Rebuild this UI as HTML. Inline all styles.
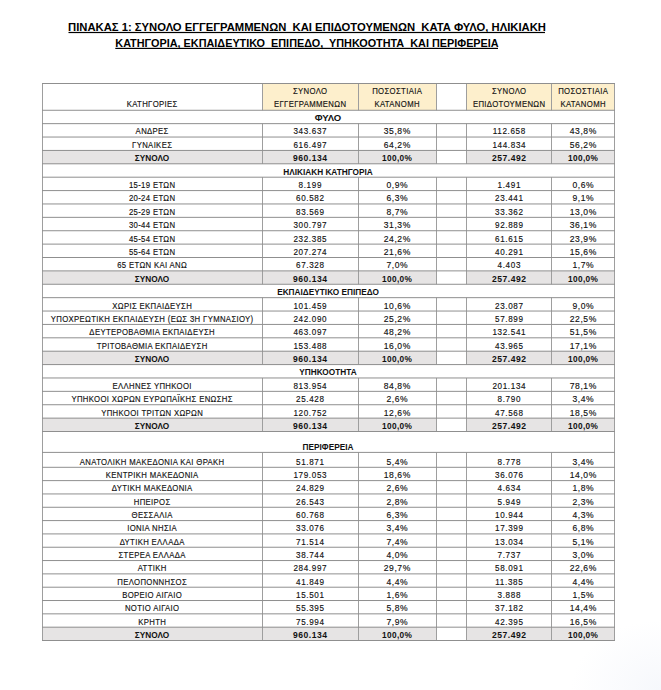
<!DOCTYPE html>
<html><head><meta charset="utf-8"><style>
html,body{margin:0;padding:0;background:#fff;}
body{width:661px;height:690px;position:relative;overflow:hidden;font-family:"Liberation Sans",sans-serif;}
svg{position:absolute;left:0;top:0;}
.t{position:absolute;text-align:center;white-space:nowrap;line-height:1;color:#111;transform-origin:50% 50%;-webkit-text-stroke:0.15px #111;}
.tt{font-weight:bold;color:#000;-webkit-text-stroke:0.0px #000;}
.b{font-weight:bold;-webkit-text-stroke:0.0px #111;}
.f{position:absolute;}
</style></head><body>
<div class="f corner" style="left:541px;top:590px;width:120px;height:100px;background:radial-gradient(ellipse 90px 70px at 100% 100%, rgba(240,243,250,0.6) 0%, rgba(255,255,255,0) 100%)"></div>
<div class="f" style="left:262px;top:83.50px;width:174px;height:26.77px;background:#fdefcc"></div>
<div class="f" style="left:466px;top:83.50px;width:148px;height:26.77px;background:#fdefcc"></div>
<div class="f" style="left:42px;top:150.43px;width:394px;height:13.38px;background:#e6e4e4"></div>
<div class="f" style="left:466px;top:150.43px;width:148px;height:13.38px;background:#e6e4e4"></div>
<div class="f" style="left:42px;top:270.89px;width:394px;height:13.38px;background:#e6e4e4"></div>
<div class="f" style="left:466px;top:270.89px;width:148px;height:13.38px;background:#e6e4e4"></div>
<div class="f" style="left:42px;top:351.20px;width:394px;height:13.38px;background:#e6e4e4"></div>
<div class="f" style="left:466px;top:351.20px;width:148px;height:13.38px;background:#e6e4e4"></div>
<div class="f" style="left:42px;top:418.12px;width:394px;height:13.38px;background:#e6e4e4"></div>
<div class="f" style="left:466px;top:418.12px;width:148px;height:13.38px;background:#e6e4e4"></div>
<div class="f" style="left:42px;top:627.18px;width:394px;height:13.32px;background:#e6e4e4"></div>
<div class="f" style="left:466px;top:627.18px;width:148px;height:13.32px;background:#e6e4e4"></div>
<svg width="661" height="690" viewBox="0 0 661 690" stroke="#8f8f8f" stroke-width="1.0">
<line x1="42.5" y1="83.5" x2="42.5" y2="640.5" stroke="#9e9e9e" />
<line x1="262.5" y1="83.5" x2="262.5" y2="110.27" stroke="#9e9e9e" />
<line x1="262.5" y1="123.655" x2="262.5" y2="163.81" stroke="#9e9e9e" />
<line x1="262.5" y1="177.195" x2="262.5" y2="284.275" stroke="#9e9e9e" />
<line x1="262.5" y1="297.65999999999997" x2="262.5" y2="364.585" stroke="#9e9e9e" />
<line x1="262.5" y1="377.96999999999997" x2="262.5" y2="431.5" stroke="#9e9e9e" />
<line x1="262.5" y1="452.4" x2="262.5" y2="640.5" stroke="#9e9e9e" />
<line x1="358.5" y1="83.5" x2="358.5" y2="110.27" stroke="#9e9e9e" />
<line x1="358.5" y1="123.655" x2="358.5" y2="163.81" stroke="#9e9e9e" />
<line x1="358.5" y1="177.195" x2="358.5" y2="284.275" stroke="#9e9e9e" />
<line x1="358.5" y1="297.65999999999997" x2="358.5" y2="364.585" stroke="#9e9e9e" />
<line x1="358.5" y1="377.96999999999997" x2="358.5" y2="431.5" stroke="#9e9e9e" />
<line x1="358.5" y1="452.4" x2="358.5" y2="640.5" stroke="#9e9e9e" />
<line x1="436.5" y1="83.5" x2="436.5" y2="110.27" stroke="#9e9e9e" />
<line x1="436.5" y1="123.655" x2="436.5" y2="163.81" stroke="#9e9e9e" />
<line x1="436.5" y1="177.195" x2="436.5" y2="284.275" stroke="#9e9e9e" />
<line x1="436.5" y1="297.65999999999997" x2="436.5" y2="364.585" stroke="#9e9e9e" />
<line x1="436.5" y1="377.96999999999997" x2="436.5" y2="431.5" stroke="#9e9e9e" />
<line x1="436.5" y1="452.4" x2="436.5" y2="640.5" stroke="#9e9e9e" />
<line x1="466.5" y1="83.5" x2="466.5" y2="110.27" stroke="#9e9e9e" />
<line x1="466.5" y1="123.655" x2="466.5" y2="163.81" stroke="#9e9e9e" />
<line x1="466.5" y1="177.195" x2="466.5" y2="284.275" stroke="#9e9e9e" />
<line x1="466.5" y1="297.65999999999997" x2="466.5" y2="364.585" stroke="#9e9e9e" />
<line x1="466.5" y1="377.96999999999997" x2="466.5" y2="431.5" stroke="#9e9e9e" />
<line x1="466.5" y1="452.4" x2="466.5" y2="640.5" stroke="#9e9e9e" />
<line x1="551.5" y1="83.5" x2="551.5" y2="110.27" stroke="#9e9e9e" />
<line x1="551.5" y1="123.655" x2="551.5" y2="163.81" stroke="#9e9e9e" />
<line x1="551.5" y1="177.195" x2="551.5" y2="284.275" stroke="#9e9e9e" />
<line x1="551.5" y1="297.65999999999997" x2="551.5" y2="364.585" stroke="#9e9e9e" />
<line x1="551.5" y1="377.96999999999997" x2="551.5" y2="431.5" stroke="#9e9e9e" />
<line x1="551.5" y1="452.4" x2="551.5" y2="640.5" stroke="#9e9e9e" />
<line x1="614.5" y1="83.5" x2="614.5" y2="640.5" stroke="#9e9e9e" />
<line x1="42" y1="83.5" x2="615" y2="83.5" />
<line x1="42" y1="110.27" x2="615" y2="110.27" />
<line x1="42" y1="123.655" x2="615" y2="123.655" />
<line x1="42" y1="137.04" x2="615" y2="137.04" />
<line x1="42" y1="150.425" x2="615" y2="150.425" />
<line x1="42" y1="163.81" x2="615" y2="163.81" />
<line x1="42" y1="177.195" x2="615" y2="177.195" />
<line x1="42" y1="190.57999999999998" x2="615" y2="190.57999999999998" />
<line x1="42" y1="203.965" x2="615" y2="203.965" />
<line x1="42" y1="217.35" x2="615" y2="217.35" />
<line x1="42" y1="230.73499999999999" x2="615" y2="230.73499999999999" />
<line x1="42" y1="244.12" x2="615" y2="244.12" />
<line x1="42" y1="257.505" x2="615" y2="257.505" />
<line x1="42" y1="270.89" x2="615" y2="270.89" />
<line x1="42" y1="284.275" x2="615" y2="284.275" />
<line x1="42" y1="297.65999999999997" x2="615" y2="297.65999999999997" />
<line x1="42" y1="311.04499999999996" x2="615" y2="311.04499999999996" />
<line x1="42" y1="324.43" x2="615" y2="324.43" />
<line x1="42" y1="337.815" x2="615" y2="337.815" />
<line x1="42" y1="351.2" x2="615" y2="351.2" />
<line x1="42" y1="364.585" x2="615" y2="364.585" />
<line x1="42" y1="377.96999999999997" x2="615" y2="377.96999999999997" />
<line x1="42" y1="391.355" x2="615" y2="391.355" />
<line x1="42" y1="404.74" x2="615" y2="404.74" />
<line x1="42" y1="418.125" x2="615" y2="418.125" />
<line x1="42" y1="431.5" x2="615" y2="431.5" />
<line x1="42" y1="452.4" x2="615" y2="452.4" />
<line x1="42" y1="467.3" x2="615" y2="467.3" />
<line x1="42" y1="480.62307692307695" x2="615" y2="480.62307692307695" />
<line x1="42" y1="493.94615384615383" x2="615" y2="493.94615384615383" />
<line x1="42" y1="507.2692307692308" x2="615" y2="507.2692307692308" />
<line x1="42" y1="520.5923076923077" x2="615" y2="520.5923076923077" />
<line x1="42" y1="533.9153846153846" x2="615" y2="533.9153846153846" />
<line x1="42" y1="547.2384615384615" x2="615" y2="547.2384615384615" />
<line x1="42" y1="560.5615384615385" x2="615" y2="560.5615384615385" />
<line x1="42" y1="573.8846153846154" x2="615" y2="573.8846153846154" />
<line x1="42" y1="587.2076923076924" x2="615" y2="587.2076923076924" />
<line x1="42" y1="600.5307692307692" x2="615" y2="600.5307692307692" />
<line x1="42" y1="613.8538461538461" x2="615" y2="613.8538461538461" />
<line x1="42" y1="627.176923076923" x2="615" y2="627.176923076923" />
<line x1="42" y1="640.5" x2="615" y2="640.5" />
<rect x="68.5" y="31.9" width="476.5" height="1.2" fill="#000" stroke="none"/>
<rect x="115.3" y="47.8" width="382.7" height="1.2" fill="#000" stroke="none"/>
</svg>
<div class="t tt" style="left:-43.20px;top:21.95px;width:700px;font-size:11px;transform:scaleX(1.0225)">ΠΙΝΑΚΑΣ 1: ΣΥΝΟΛΟ ΕΓΓΕΓΡΑΜΜΕΝΩΝ&nbsp; ΚΑΙ ΕΠΙΔΟΤΟΥΜΕΝΩΝ&nbsp; ΚΑΤΑ ΦΥΛΟ, ΗΛΙΚΙΑΚΗ</div>
<div class="t tt" style="left:-43.20px;top:38.05px;width:700px;font-size:11px;transform:scaleX(0.9860)">ΚΑΤΗΓΟΡΙΑ, ΕΚΠΑΙΔΕΥΤΙΚΟ&nbsp; ΕΠΙΠΕΔΟ,&nbsp; ΥΠΗΚΟΟΤΗΤΑ&nbsp; ΚΑΙ ΠΕΡΙΦΕΡΕΙΑ</div>
<div class="t" style="left:-48.00px;top:99.76px;width:400px;font-size:9.0px;transform:scaleX(0.8600);letter-spacing:0.4px;text-indent:0.4px;">ΚΑΤΗΓΟΡΙΕΣ</div>
<div class="t" style="left:110.00px;top:87.16px;width:400px;font-size:9.0px;transform:scaleX(0.8600);letter-spacing:0.4px;text-indent:0.4px;">ΣΥΝΟΛΟ</div>
<div class="t" style="left:110.00px;top:99.76px;width:400px;font-size:9.0px;transform:scaleX(0.8600);letter-spacing:0.4px;text-indent:0.4px;">ΕΓΓΕΓΡΑΜΜΕΝΩΝ</div>
<div class="t" style="left:197.00px;top:87.16px;width:400px;font-size:9.0px;transform:scaleX(0.8600);letter-spacing:0.4px;text-indent:0.4px;">ΠΟΣΟΣΤΙΑΙΑ</div>
<div class="t" style="left:197.00px;top:99.76px;width:400px;font-size:9.0px;transform:scaleX(0.8600);letter-spacing:0.4px;text-indent:0.4px;">ΚΑΤΑΝΟΜΗ</div>
<div class="t" style="left:308.50px;top:87.16px;width:400px;font-size:9.0px;transform:scaleX(0.8600);letter-spacing:0.4px;text-indent:0.4px;">ΣΥΝΟΛΟ</div>
<div class="t" style="left:308.50px;top:99.76px;width:400px;font-size:9.0px;transform:scaleX(0.8600);letter-spacing:0.4px;text-indent:0.4px;">ΕΠΙΔΟΤΟΥΜΕΝΩΝ</div>
<div class="t" style="left:382.50px;top:87.16px;width:400px;font-size:9.0px;transform:scaleX(0.8600);letter-spacing:0.4px;text-indent:0.4px;">ΠΟΣΟΣΤΙΑΙΑ</div>
<div class="t" style="left:382.50px;top:99.76px;width:400px;font-size:9.0px;transform:scaleX(0.8600);letter-spacing:0.4px;text-indent:0.4px;">ΚΑΤΑΝΟΜΗ</div>
<div class="t b" style="left:128.00px;top:114.11px;width:400px;font-size:9.0px;transform:scaleX(1.0600);">ΦΥΛΟ</div>
<div class="t" style="left:-48.00px;top:127.49px;width:400px;font-size:9.0px;transform:scaleX(0.8600);letter-spacing:0.4px;text-indent:0.4px;">ΑΝΔΡΕΣ</div>
<div class="t" style="left:110.00px;top:127.49px;width:400px;font-size:9.0px;transform:scaleX(0.9000);letter-spacing:0.7px;text-indent:0.7px;">343.637</div>
<div class="t" style="left:197.00px;top:127.49px;width:400px;font-size:9.0px;transform:scaleX(0.9500);letter-spacing:0.6px;text-indent:0.6px;">35,8%</div>
<div class="t" style="left:308.50px;top:127.49px;width:400px;font-size:9.0px;transform:scaleX(0.9000);letter-spacing:0.7px;text-indent:0.7px;">112.658</div>
<div class="t" style="left:382.50px;top:127.49px;width:400px;font-size:9.0px;transform:scaleX(0.9500);letter-spacing:0.6px;text-indent:0.6px;">43,8%</div>
<div class="t" style="left:-48.00px;top:140.88px;width:400px;font-size:9.0px;transform:scaleX(0.8600);letter-spacing:0.4px;text-indent:0.4px;">ΓΥΝΑΙΚΕΣ</div>
<div class="t" style="left:110.00px;top:140.88px;width:400px;font-size:9.0px;transform:scaleX(0.9000);letter-spacing:0.7px;text-indent:0.7px;">616.497</div>
<div class="t" style="left:197.00px;top:140.88px;width:400px;font-size:9.0px;transform:scaleX(0.9500);letter-spacing:0.6px;text-indent:0.6px;">64,2%</div>
<div class="t" style="left:308.50px;top:140.88px;width:400px;font-size:9.0px;transform:scaleX(0.9000);letter-spacing:0.7px;text-indent:0.7px;">144.834</div>
<div class="t" style="left:382.50px;top:140.88px;width:400px;font-size:9.0px;transform:scaleX(0.9500);letter-spacing:0.6px;text-indent:0.6px;">56,2%</div>
<div class="t b" style="left:-48.00px;top:154.26px;width:400px;font-size:9.0px;transform:scaleX(0.9180);">ΣΥΝΟΛΟ</div>
<div class="t b" style="left:110.00px;top:154.26px;width:400px;font-size:9.0px;transform:scaleX(0.9500);letter-spacing:0.55px;text-indent:0.55px;">960.134</div>
<div class="t b" style="left:197.00px;top:154.26px;width:400px;font-size:9.0px;transform:scaleX(0.9200);letter-spacing:0.4px;text-indent:0.4px;">100,0%</div>
<div class="t b" style="left:308.50px;top:154.26px;width:400px;font-size:9.0px;transform:scaleX(0.9500);letter-spacing:0.55px;text-indent:0.55px;">257.492</div>
<div class="t b" style="left:382.50px;top:154.26px;width:400px;font-size:9.0px;transform:scaleX(0.9200);letter-spacing:0.4px;text-indent:0.4px;">100,0%</div>
<div class="t b" style="left:128.00px;top:167.65px;width:400px;font-size:9.0px;transform:scaleX(0.9180);">ΗΛΙΚΙΑΚΗ ΚΑΤΗΓΟΡΙΑ</div>
<div class="t" style="left:-48.00px;top:181.03px;width:400px;font-size:9.0px;transform:scaleX(0.8600);letter-spacing:0.4px;text-indent:0.4px;">15-19 ΕΤΩΝ</div>
<div class="t" style="left:110.00px;top:181.03px;width:400px;font-size:9.0px;transform:scaleX(0.9000);letter-spacing:0.7px;text-indent:0.7px;">8.199</div>
<div class="t" style="left:197.00px;top:181.03px;width:400px;font-size:9.0px;transform:scaleX(0.9500);letter-spacing:0.6px;text-indent:0.6px;">0,9%</div>
<div class="t" style="left:308.50px;top:181.03px;width:400px;font-size:9.0px;transform:scaleX(0.9000);letter-spacing:0.7px;text-indent:0.7px;">1.491</div>
<div class="t" style="left:382.50px;top:181.03px;width:400px;font-size:9.0px;transform:scaleX(0.9500);letter-spacing:0.6px;text-indent:0.6px;">0,6%</div>
<div class="t" style="left:-48.00px;top:194.42px;width:400px;font-size:9.0px;transform:scaleX(0.8600);letter-spacing:0.4px;text-indent:0.4px;">20-24 ΕΤΩΝ</div>
<div class="t" style="left:110.00px;top:194.42px;width:400px;font-size:9.0px;transform:scaleX(0.9000);letter-spacing:0.7px;text-indent:0.7px;">60.582</div>
<div class="t" style="left:197.00px;top:194.42px;width:400px;font-size:9.0px;transform:scaleX(0.9500);letter-spacing:0.6px;text-indent:0.6px;">6,3%</div>
<div class="t" style="left:308.50px;top:194.42px;width:400px;font-size:9.0px;transform:scaleX(0.9000);letter-spacing:0.7px;text-indent:0.7px;">23.441</div>
<div class="t" style="left:382.50px;top:194.42px;width:400px;font-size:9.0px;transform:scaleX(0.9500);letter-spacing:0.6px;text-indent:0.6px;">9,1%</div>
<div class="t" style="left:-48.00px;top:207.80px;width:400px;font-size:9.0px;transform:scaleX(0.8600);letter-spacing:0.4px;text-indent:0.4px;">25-29 ΕΤΩΝ</div>
<div class="t" style="left:110.00px;top:207.80px;width:400px;font-size:9.0px;transform:scaleX(0.9000);letter-spacing:0.7px;text-indent:0.7px;">83.569</div>
<div class="t" style="left:197.00px;top:207.80px;width:400px;font-size:9.0px;transform:scaleX(0.9500);letter-spacing:0.6px;text-indent:0.6px;">8,7%</div>
<div class="t" style="left:308.50px;top:207.80px;width:400px;font-size:9.0px;transform:scaleX(0.9000);letter-spacing:0.7px;text-indent:0.7px;">33.362</div>
<div class="t" style="left:382.50px;top:207.80px;width:400px;font-size:9.0px;transform:scaleX(0.9500);letter-spacing:0.6px;text-indent:0.6px;">13,0%</div>
<div class="t" style="left:-48.00px;top:221.19px;width:400px;font-size:9.0px;transform:scaleX(0.8600);letter-spacing:0.4px;text-indent:0.4px;">30-44 ΕΤΩΝ</div>
<div class="t" style="left:110.00px;top:221.19px;width:400px;font-size:9.0px;transform:scaleX(0.9000);letter-spacing:0.7px;text-indent:0.7px;">300.797</div>
<div class="t" style="left:197.00px;top:221.19px;width:400px;font-size:9.0px;transform:scaleX(0.9500);letter-spacing:0.6px;text-indent:0.6px;">31,3%</div>
<div class="t" style="left:308.50px;top:221.19px;width:400px;font-size:9.0px;transform:scaleX(0.9000);letter-spacing:0.7px;text-indent:0.7px;">92.889</div>
<div class="t" style="left:382.50px;top:221.19px;width:400px;font-size:9.0px;transform:scaleX(0.9500);letter-spacing:0.6px;text-indent:0.6px;">36,1%</div>
<div class="t" style="left:-48.00px;top:234.57px;width:400px;font-size:9.0px;transform:scaleX(0.8600);letter-spacing:0.4px;text-indent:0.4px;">45-54 ΕΤΩΝ</div>
<div class="t" style="left:110.00px;top:234.57px;width:400px;font-size:9.0px;transform:scaleX(0.9000);letter-spacing:0.7px;text-indent:0.7px;">232.385</div>
<div class="t" style="left:197.00px;top:234.57px;width:400px;font-size:9.0px;transform:scaleX(0.9500);letter-spacing:0.6px;text-indent:0.6px;">24,2%</div>
<div class="t" style="left:308.50px;top:234.57px;width:400px;font-size:9.0px;transform:scaleX(0.9000);letter-spacing:0.7px;text-indent:0.7px;">61.615</div>
<div class="t" style="left:382.50px;top:234.57px;width:400px;font-size:9.0px;transform:scaleX(0.9500);letter-spacing:0.6px;text-indent:0.6px;">23,9%</div>
<div class="t" style="left:-48.00px;top:247.96px;width:400px;font-size:9.0px;transform:scaleX(0.8600);letter-spacing:0.4px;text-indent:0.4px;">55-64 ΕΤΩΝ</div>
<div class="t" style="left:110.00px;top:247.96px;width:400px;font-size:9.0px;transform:scaleX(0.9000);letter-spacing:0.7px;text-indent:0.7px;">207.274</div>
<div class="t" style="left:197.00px;top:247.96px;width:400px;font-size:9.0px;transform:scaleX(0.9500);letter-spacing:0.6px;text-indent:0.6px;">21,6%</div>
<div class="t" style="left:308.50px;top:247.96px;width:400px;font-size:9.0px;transform:scaleX(0.9000);letter-spacing:0.7px;text-indent:0.7px;">40.291</div>
<div class="t" style="left:382.50px;top:247.96px;width:400px;font-size:9.0px;transform:scaleX(0.9500);letter-spacing:0.6px;text-indent:0.6px;">15,6%</div>
<div class="t" style="left:-48.00px;top:261.35px;width:400px;font-size:9.0px;transform:scaleX(0.8600);letter-spacing:0.4px;text-indent:0.4px;">65 ΕΤΩΝ ΚΑΙ ΑΝΩ</div>
<div class="t" style="left:110.00px;top:261.35px;width:400px;font-size:9.0px;transform:scaleX(0.9000);letter-spacing:0.7px;text-indent:0.7px;">67.328</div>
<div class="t" style="left:197.00px;top:261.35px;width:400px;font-size:9.0px;transform:scaleX(0.9500);letter-spacing:0.6px;text-indent:0.6px;">7,0%</div>
<div class="t" style="left:308.50px;top:261.35px;width:400px;font-size:9.0px;transform:scaleX(0.9000);letter-spacing:0.7px;text-indent:0.7px;">4.403</div>
<div class="t" style="left:382.50px;top:261.35px;width:400px;font-size:9.0px;transform:scaleX(0.9500);letter-spacing:0.6px;text-indent:0.6px;">1,7%</div>
<div class="t b" style="left:-48.00px;top:274.73px;width:400px;font-size:9.0px;transform:scaleX(0.9180);">ΣΥΝΟΛΟ</div>
<div class="t b" style="left:110.00px;top:274.73px;width:400px;font-size:9.0px;transform:scaleX(0.9500);letter-spacing:0.55px;text-indent:0.55px;">960.134</div>
<div class="t b" style="left:197.00px;top:274.73px;width:400px;font-size:9.0px;transform:scaleX(0.9200);letter-spacing:0.4px;text-indent:0.4px;">100,0%</div>
<div class="t b" style="left:308.50px;top:274.73px;width:400px;font-size:9.0px;transform:scaleX(0.9500);letter-spacing:0.55px;text-indent:0.55px;">257.492</div>
<div class="t b" style="left:382.50px;top:274.73px;width:400px;font-size:9.0px;transform:scaleX(0.9200);letter-spacing:0.4px;text-indent:0.4px;">100,0%</div>
<div class="t b" style="left:128.00px;top:288.12px;width:400px;font-size:9.0px;transform:scaleX(0.9180);">ΕΚΠΑΙΔΕΥΤΙΚΟ ΕΠΙΠΕΔΟ</div>
<div class="t" style="left:-48.00px;top:301.50px;width:400px;font-size:9.0px;transform:scaleX(0.8600);letter-spacing:0.4px;text-indent:0.4px;">ΧΩΡΙΣ ΕΚΠΑΙΔΕΥΣΗ</div>
<div class="t" style="left:110.00px;top:301.50px;width:400px;font-size:9.0px;transform:scaleX(0.9000);letter-spacing:0.7px;text-indent:0.7px;">101.459</div>
<div class="t" style="left:197.00px;top:301.50px;width:400px;font-size:9.0px;transform:scaleX(0.9500);letter-spacing:0.6px;text-indent:0.6px;">10,6%</div>
<div class="t" style="left:308.50px;top:301.50px;width:400px;font-size:9.0px;transform:scaleX(0.9000);letter-spacing:0.7px;text-indent:0.7px;">23.087</div>
<div class="t" style="left:382.50px;top:301.50px;width:400px;font-size:9.0px;transform:scaleX(0.9500);letter-spacing:0.6px;text-indent:0.6px;">9,0%</div>
<div class="t" style="left:-48.00px;top:314.89px;width:400px;font-size:9.0px;transform:scaleX(0.8600);letter-spacing:0.4px;text-indent:0.4px;">ΥΠΟΧΡΕΩΤΙΚΗ ΕΚΠΑΙΔΕΥΣΗ (ΕΩΣ 3Η ΓΥΜΝΑΣΙΟΥ)</div>
<div class="t" style="left:110.00px;top:314.89px;width:400px;font-size:9.0px;transform:scaleX(0.9000);letter-spacing:0.7px;text-indent:0.7px;">242.090</div>
<div class="t" style="left:197.00px;top:314.89px;width:400px;font-size:9.0px;transform:scaleX(0.9500);letter-spacing:0.6px;text-indent:0.6px;">25,2%</div>
<div class="t" style="left:308.50px;top:314.89px;width:400px;font-size:9.0px;transform:scaleX(0.9000);letter-spacing:0.7px;text-indent:0.7px;">57.899</div>
<div class="t" style="left:382.50px;top:314.89px;width:400px;font-size:9.0px;transform:scaleX(0.9500);letter-spacing:0.6px;text-indent:0.6px;">22,5%</div>
<div class="t" style="left:-48.00px;top:328.27px;width:400px;font-size:9.0px;transform:scaleX(0.8600);letter-spacing:0.4px;text-indent:0.4px;">ΔΕΥΤΕΡΟΒΑΘΜΙΑ ΕΚΠΑΙΔΕΥΣΗ</div>
<div class="t" style="left:110.00px;top:328.27px;width:400px;font-size:9.0px;transform:scaleX(0.9000);letter-spacing:0.7px;text-indent:0.7px;">463.097</div>
<div class="t" style="left:197.00px;top:328.27px;width:400px;font-size:9.0px;transform:scaleX(0.9500);letter-spacing:0.6px;text-indent:0.6px;">48,2%</div>
<div class="t" style="left:308.50px;top:328.27px;width:400px;font-size:9.0px;transform:scaleX(0.9000);letter-spacing:0.7px;text-indent:0.7px;">132.541</div>
<div class="t" style="left:382.50px;top:328.27px;width:400px;font-size:9.0px;transform:scaleX(0.9500);letter-spacing:0.6px;text-indent:0.6px;">51,5%</div>
<div class="t" style="left:-48.00px;top:341.66px;width:400px;font-size:9.0px;transform:scaleX(0.8600);letter-spacing:0.4px;text-indent:0.4px;">ΤΡΙΤΟΒΑΘΜΙΑ ΕΚΠΑΙΔΕΥΣΗ</div>
<div class="t" style="left:110.00px;top:341.66px;width:400px;font-size:9.0px;transform:scaleX(0.9000);letter-spacing:0.7px;text-indent:0.7px;">153.488</div>
<div class="t" style="left:197.00px;top:341.66px;width:400px;font-size:9.0px;transform:scaleX(0.9500);letter-spacing:0.6px;text-indent:0.6px;">16,0%</div>
<div class="t" style="left:308.50px;top:341.66px;width:400px;font-size:9.0px;transform:scaleX(0.9000);letter-spacing:0.7px;text-indent:0.7px;">43.965</div>
<div class="t" style="left:382.50px;top:341.66px;width:400px;font-size:9.0px;transform:scaleX(0.9500);letter-spacing:0.6px;text-indent:0.6px;">17,1%</div>
<div class="t b" style="left:-48.00px;top:355.04px;width:400px;font-size:9.0px;transform:scaleX(0.9180);">ΣΥΝΟΛΟ</div>
<div class="t b" style="left:110.00px;top:355.04px;width:400px;font-size:9.0px;transform:scaleX(0.9500);letter-spacing:0.55px;text-indent:0.55px;">960.134</div>
<div class="t b" style="left:197.00px;top:355.04px;width:400px;font-size:9.0px;transform:scaleX(0.9200);letter-spacing:0.4px;text-indent:0.4px;">100,0%</div>
<div class="t b" style="left:308.50px;top:355.04px;width:400px;font-size:9.0px;transform:scaleX(0.9500);letter-spacing:0.55px;text-indent:0.55px;">257.492</div>
<div class="t b" style="left:382.50px;top:355.04px;width:400px;font-size:9.0px;transform:scaleX(0.9200);letter-spacing:0.4px;text-indent:0.4px;">100,0%</div>
<div class="t b" style="left:128.00px;top:368.43px;width:400px;font-size:9.0px;transform:scaleX(0.9180);">ΥΠΗΚΟΟΤΗΤΑ</div>
<div class="t" style="left:-48.00px;top:381.81px;width:400px;font-size:9.0px;transform:scaleX(0.8600);letter-spacing:0.4px;text-indent:0.4px;">ΕΛΛΗΝΕΣ ΥΠΗΚΟΟΙ</div>
<div class="t" style="left:110.00px;top:381.81px;width:400px;font-size:9.0px;transform:scaleX(0.9000);letter-spacing:0.7px;text-indent:0.7px;">813.954</div>
<div class="t" style="left:197.00px;top:381.81px;width:400px;font-size:9.0px;transform:scaleX(0.9500);letter-spacing:0.6px;text-indent:0.6px;">84,8%</div>
<div class="t" style="left:308.50px;top:381.81px;width:400px;font-size:9.0px;transform:scaleX(0.9000);letter-spacing:0.7px;text-indent:0.7px;">201.134</div>
<div class="t" style="left:382.50px;top:381.81px;width:400px;font-size:9.0px;transform:scaleX(0.9500);letter-spacing:0.6px;text-indent:0.6px;">78,1%</div>
<div class="t" style="left:-48.00px;top:395.20px;width:400px;font-size:9.0px;transform:scaleX(0.8600);letter-spacing:0.4px;text-indent:0.4px;">ΥΠΗΚΟΟΙ ΧΩΡΩΝ ΕΥΡΩΠΑΪΚΗΣ ΕΝΩΣΗΣ</div>
<div class="t" style="left:110.00px;top:395.20px;width:400px;font-size:9.0px;transform:scaleX(0.9000);letter-spacing:0.7px;text-indent:0.7px;">25.428</div>
<div class="t" style="left:197.00px;top:395.20px;width:400px;font-size:9.0px;transform:scaleX(0.9500);letter-spacing:0.6px;text-indent:0.6px;">2,6%</div>
<div class="t" style="left:308.50px;top:395.20px;width:400px;font-size:9.0px;transform:scaleX(0.9000);letter-spacing:0.7px;text-indent:0.7px;">8.790</div>
<div class="t" style="left:382.50px;top:395.20px;width:400px;font-size:9.0px;transform:scaleX(0.9500);letter-spacing:0.6px;text-indent:0.6px;">3,4%</div>
<div class="t" style="left:-48.00px;top:408.58px;width:400px;font-size:9.0px;transform:scaleX(0.8600);letter-spacing:0.4px;text-indent:0.4px;">ΥΠΗΚΟΟΙ ΤΡΙΤΩΝ ΧΩΡΩΝ</div>
<div class="t" style="left:110.00px;top:408.58px;width:400px;font-size:9.0px;transform:scaleX(0.9000);letter-spacing:0.7px;text-indent:0.7px;">120.752</div>
<div class="t" style="left:197.00px;top:408.58px;width:400px;font-size:9.0px;transform:scaleX(0.9500);letter-spacing:0.6px;text-indent:0.6px;">12,6%</div>
<div class="t" style="left:308.50px;top:408.58px;width:400px;font-size:9.0px;transform:scaleX(0.9000);letter-spacing:0.7px;text-indent:0.7px;">47.568</div>
<div class="t" style="left:382.50px;top:408.58px;width:400px;font-size:9.0px;transform:scaleX(0.9500);letter-spacing:0.6px;text-indent:0.6px;">18,5%</div>
<div class="t b" style="left:-48.00px;top:421.96px;width:400px;font-size:9.0px;transform:scaleX(0.9180);">ΣΥΝΟΛΟ</div>
<div class="t b" style="left:110.00px;top:421.96px;width:400px;font-size:9.0px;transform:scaleX(0.9500);letter-spacing:0.55px;text-indent:0.55px;">960.134</div>
<div class="t b" style="left:197.00px;top:421.96px;width:400px;font-size:9.0px;transform:scaleX(0.9200);letter-spacing:0.4px;text-indent:0.4px;">100,0%</div>
<div class="t b" style="left:308.50px;top:421.96px;width:400px;font-size:9.0px;transform:scaleX(0.9500);letter-spacing:0.55px;text-indent:0.55px;">257.492</div>
<div class="t b" style="left:382.50px;top:421.96px;width:400px;font-size:9.0px;transform:scaleX(0.9200);letter-spacing:0.4px;text-indent:0.4px;">100,0%</div>
<div class="t b" style="left:128.00px;top:442.86px;width:400px;font-size:9.0px;transform:scaleX(0.9180);">ΠΕΡΙΦΕΡΕΙΑ</div>
<div class="t" style="left:-48.00px;top:457.76px;width:400px;font-size:9.0px;transform:scaleX(0.8600);letter-spacing:0.4px;text-indent:0.4px;">ΑΝΑΤΟΛΙΚΗ ΜΑΚΕΔΟΝΙΑ ΚΑΙ ΘΡΑΚΗ</div>
<div class="t" style="left:110.00px;top:457.76px;width:400px;font-size:9.0px;transform:scaleX(0.9000);letter-spacing:0.7px;text-indent:0.7px;">51.871</div>
<div class="t" style="left:197.00px;top:457.76px;width:400px;font-size:9.0px;transform:scaleX(0.9500);letter-spacing:0.6px;text-indent:0.6px;">5,4%</div>
<div class="t" style="left:308.50px;top:457.76px;width:400px;font-size:9.0px;transform:scaleX(0.9000);letter-spacing:0.7px;text-indent:0.7px;">8.778</div>
<div class="t" style="left:382.50px;top:457.76px;width:400px;font-size:9.0px;transform:scaleX(0.9500);letter-spacing:0.6px;text-indent:0.6px;">3,4%</div>
<div class="t" style="left:-48.00px;top:471.08px;width:400px;font-size:9.0px;transform:scaleX(0.8600);letter-spacing:0.4px;text-indent:0.4px;">ΚΕΝΤΡΙΚΗ ΜΑΚΕΔΟΝΙΑ</div>
<div class="t" style="left:110.00px;top:471.08px;width:400px;font-size:9.0px;transform:scaleX(0.9000);letter-spacing:0.7px;text-indent:0.7px;">179.053</div>
<div class="t" style="left:197.00px;top:471.08px;width:400px;font-size:9.0px;transform:scaleX(0.9500);letter-spacing:0.6px;text-indent:0.6px;">18,6%</div>
<div class="t" style="left:308.50px;top:471.08px;width:400px;font-size:9.0px;transform:scaleX(0.9000);letter-spacing:0.7px;text-indent:0.7px;">36.076</div>
<div class="t" style="left:382.50px;top:471.08px;width:400px;font-size:9.0px;transform:scaleX(0.9500);letter-spacing:0.6px;text-indent:0.6px;">14,0%</div>
<div class="t" style="left:-48.00px;top:484.40px;width:400px;font-size:9.0px;transform:scaleX(0.8600);letter-spacing:0.4px;text-indent:0.4px;">ΔΥΤΙΚΗ ΜΑΚΕΔΟΝΙΑ</div>
<div class="t" style="left:110.00px;top:484.40px;width:400px;font-size:9.0px;transform:scaleX(0.9000);letter-spacing:0.7px;text-indent:0.7px;">24.829</div>
<div class="t" style="left:197.00px;top:484.40px;width:400px;font-size:9.0px;transform:scaleX(0.9500);letter-spacing:0.6px;text-indent:0.6px;">2,6%</div>
<div class="t" style="left:308.50px;top:484.40px;width:400px;font-size:9.0px;transform:scaleX(0.9000);letter-spacing:0.7px;text-indent:0.7px;">4.634</div>
<div class="t" style="left:382.50px;top:484.40px;width:400px;font-size:9.0px;transform:scaleX(0.9500);letter-spacing:0.6px;text-indent:0.6px;">1,8%</div>
<div class="t" style="left:-48.00px;top:497.72px;width:400px;font-size:9.0px;transform:scaleX(0.8600);letter-spacing:0.4px;text-indent:0.4px;">ΗΠΕΙΡΟΣ</div>
<div class="t" style="left:110.00px;top:497.72px;width:400px;font-size:9.0px;transform:scaleX(0.9000);letter-spacing:0.7px;text-indent:0.7px;">26.543</div>
<div class="t" style="left:197.00px;top:497.72px;width:400px;font-size:9.0px;transform:scaleX(0.9500);letter-spacing:0.6px;text-indent:0.6px;">2,8%</div>
<div class="t" style="left:308.50px;top:497.72px;width:400px;font-size:9.0px;transform:scaleX(0.9000);letter-spacing:0.7px;text-indent:0.7px;">5.949</div>
<div class="t" style="left:382.50px;top:497.72px;width:400px;font-size:9.0px;transform:scaleX(0.9500);letter-spacing:0.6px;text-indent:0.6px;">2,3%</div>
<div class="t" style="left:-48.00px;top:511.05px;width:400px;font-size:9.0px;transform:scaleX(0.8600);letter-spacing:0.4px;text-indent:0.4px;">ΘΕΣΣΑΛΙΑ</div>
<div class="t" style="left:110.00px;top:511.05px;width:400px;font-size:9.0px;transform:scaleX(0.9000);letter-spacing:0.7px;text-indent:0.7px;">60.768</div>
<div class="t" style="left:197.00px;top:511.05px;width:400px;font-size:9.0px;transform:scaleX(0.9500);letter-spacing:0.6px;text-indent:0.6px;">6,3%</div>
<div class="t" style="left:308.50px;top:511.05px;width:400px;font-size:9.0px;transform:scaleX(0.9000);letter-spacing:0.7px;text-indent:0.7px;">10.944</div>
<div class="t" style="left:382.50px;top:511.05px;width:400px;font-size:9.0px;transform:scaleX(0.9500);letter-spacing:0.6px;text-indent:0.6px;">4,3%</div>
<div class="t" style="left:-48.00px;top:524.37px;width:400px;font-size:9.0px;transform:scaleX(0.8600);letter-spacing:0.4px;text-indent:0.4px;">ΙΟΝΙΑ ΝΗΣΙΑ</div>
<div class="t" style="left:110.00px;top:524.37px;width:400px;font-size:9.0px;transform:scaleX(0.9000);letter-spacing:0.7px;text-indent:0.7px;">33.076</div>
<div class="t" style="left:197.00px;top:524.37px;width:400px;font-size:9.0px;transform:scaleX(0.9500);letter-spacing:0.6px;text-indent:0.6px;">3,4%</div>
<div class="t" style="left:308.50px;top:524.37px;width:400px;font-size:9.0px;transform:scaleX(0.9000);letter-spacing:0.7px;text-indent:0.7px;">17.399</div>
<div class="t" style="left:382.50px;top:524.37px;width:400px;font-size:9.0px;transform:scaleX(0.9500);letter-spacing:0.6px;text-indent:0.6px;">6,8%</div>
<div class="t" style="left:-48.00px;top:537.69px;width:400px;font-size:9.0px;transform:scaleX(0.8600);letter-spacing:0.4px;text-indent:0.4px;">ΔΥΤΙΚΗ ΕΛΛΑΔΑ</div>
<div class="t" style="left:110.00px;top:537.69px;width:400px;font-size:9.0px;transform:scaleX(0.9000);letter-spacing:0.7px;text-indent:0.7px;">71.514</div>
<div class="t" style="left:197.00px;top:537.69px;width:400px;font-size:9.0px;transform:scaleX(0.9500);letter-spacing:0.6px;text-indent:0.6px;">7,4%</div>
<div class="t" style="left:308.50px;top:537.69px;width:400px;font-size:9.0px;transform:scaleX(0.9000);letter-spacing:0.7px;text-indent:0.7px;">13.034</div>
<div class="t" style="left:382.50px;top:537.69px;width:400px;font-size:9.0px;transform:scaleX(0.9500);letter-spacing:0.6px;text-indent:0.6px;">5,1%</div>
<div class="t" style="left:-48.00px;top:551.02px;width:400px;font-size:9.0px;transform:scaleX(0.8600);letter-spacing:0.4px;text-indent:0.4px;">ΣΤΕΡΕΑ ΕΛΛΑΔΑ</div>
<div class="t" style="left:110.00px;top:551.02px;width:400px;font-size:9.0px;transform:scaleX(0.9000);letter-spacing:0.7px;text-indent:0.7px;">38.744</div>
<div class="t" style="left:197.00px;top:551.02px;width:400px;font-size:9.0px;transform:scaleX(0.9500);letter-spacing:0.6px;text-indent:0.6px;">4,0%</div>
<div class="t" style="left:308.50px;top:551.02px;width:400px;font-size:9.0px;transform:scaleX(0.9000);letter-spacing:0.7px;text-indent:0.7px;">7.737</div>
<div class="t" style="left:382.50px;top:551.02px;width:400px;font-size:9.0px;transform:scaleX(0.9500);letter-spacing:0.6px;text-indent:0.6px;">3,0%</div>
<div class="t" style="left:-48.00px;top:564.34px;width:400px;font-size:9.0px;transform:scaleX(0.8600);letter-spacing:0.4px;text-indent:0.4px;">ΑΤΤΙΚΗ</div>
<div class="t" style="left:110.00px;top:564.34px;width:400px;font-size:9.0px;transform:scaleX(0.9000);letter-spacing:0.7px;text-indent:0.7px;">284.997</div>
<div class="t" style="left:197.00px;top:564.34px;width:400px;font-size:9.0px;transform:scaleX(0.9500);letter-spacing:0.6px;text-indent:0.6px;">29,7%</div>
<div class="t" style="left:308.50px;top:564.34px;width:400px;font-size:9.0px;transform:scaleX(0.9000);letter-spacing:0.7px;text-indent:0.7px;">58.091</div>
<div class="t" style="left:382.50px;top:564.34px;width:400px;font-size:9.0px;transform:scaleX(0.9500);letter-spacing:0.6px;text-indent:0.6px;">22,6%</div>
<div class="t" style="left:-48.00px;top:577.66px;width:400px;font-size:9.0px;transform:scaleX(0.8600);letter-spacing:0.4px;text-indent:0.4px;">ΠΕΛΟΠΟΝΝΗΣΟΣ</div>
<div class="t" style="left:110.00px;top:577.66px;width:400px;font-size:9.0px;transform:scaleX(0.9000);letter-spacing:0.7px;text-indent:0.7px;">41.849</div>
<div class="t" style="left:197.00px;top:577.66px;width:400px;font-size:9.0px;transform:scaleX(0.9500);letter-spacing:0.6px;text-indent:0.6px;">4,4%</div>
<div class="t" style="left:308.50px;top:577.66px;width:400px;font-size:9.0px;transform:scaleX(0.9000);letter-spacing:0.7px;text-indent:0.7px;">11.385</div>
<div class="t" style="left:382.50px;top:577.66px;width:400px;font-size:9.0px;transform:scaleX(0.9500);letter-spacing:0.6px;text-indent:0.6px;">4,4%</div>
<div class="t" style="left:-48.00px;top:590.99px;width:400px;font-size:9.0px;transform:scaleX(0.8600);letter-spacing:0.4px;text-indent:0.4px;">ΒΟΡΕΙΟ ΑΙΓΑΙΟ</div>
<div class="t" style="left:110.00px;top:590.99px;width:400px;font-size:9.0px;transform:scaleX(0.9000);letter-spacing:0.7px;text-indent:0.7px;">15.501</div>
<div class="t" style="left:197.00px;top:590.99px;width:400px;font-size:9.0px;transform:scaleX(0.9500);letter-spacing:0.6px;text-indent:0.6px;">1,6%</div>
<div class="t" style="left:308.50px;top:590.99px;width:400px;font-size:9.0px;transform:scaleX(0.9000);letter-spacing:0.7px;text-indent:0.7px;">3.888</div>
<div class="t" style="left:382.50px;top:590.99px;width:400px;font-size:9.0px;transform:scaleX(0.9500);letter-spacing:0.6px;text-indent:0.6px;">1,5%</div>
<div class="t" style="left:-48.00px;top:604.31px;width:400px;font-size:9.0px;transform:scaleX(0.8600);letter-spacing:0.4px;text-indent:0.4px;">ΝΟΤΙΟ ΑΙΓΑΙΟ</div>
<div class="t" style="left:110.00px;top:604.31px;width:400px;font-size:9.0px;transform:scaleX(0.9000);letter-spacing:0.7px;text-indent:0.7px;">55.395</div>
<div class="t" style="left:197.00px;top:604.31px;width:400px;font-size:9.0px;transform:scaleX(0.9500);letter-spacing:0.6px;text-indent:0.6px;">5,8%</div>
<div class="t" style="left:308.50px;top:604.31px;width:400px;font-size:9.0px;transform:scaleX(0.9000);letter-spacing:0.7px;text-indent:0.7px;">37.182</div>
<div class="t" style="left:382.50px;top:604.31px;width:400px;font-size:9.0px;transform:scaleX(0.9500);letter-spacing:0.6px;text-indent:0.6px;">14,4%</div>
<div class="t" style="left:-48.00px;top:617.63px;width:400px;font-size:9.0px;transform:scaleX(0.8600);letter-spacing:0.4px;text-indent:0.4px;">ΚΡΗΤΗ</div>
<div class="t" style="left:110.00px;top:617.63px;width:400px;font-size:9.0px;transform:scaleX(0.9000);letter-spacing:0.7px;text-indent:0.7px;">75.994</div>
<div class="t" style="left:197.00px;top:617.63px;width:400px;font-size:9.0px;transform:scaleX(0.9500);letter-spacing:0.6px;text-indent:0.6px;">7,9%</div>
<div class="t" style="left:308.50px;top:617.63px;width:400px;font-size:9.0px;transform:scaleX(0.9000);letter-spacing:0.7px;text-indent:0.7px;">42.395</div>
<div class="t" style="left:382.50px;top:617.63px;width:400px;font-size:9.0px;transform:scaleX(0.9500);letter-spacing:0.6px;text-indent:0.6px;">16,5%</div>
<div class="t b" style="left:-48.00px;top:630.96px;width:400px;font-size:9.0px;transform:scaleX(0.9180);">ΣΥΝΟΛΟ</div>
<div class="t b" style="left:110.00px;top:630.96px;width:400px;font-size:9.0px;transform:scaleX(0.9500);letter-spacing:0.55px;text-indent:0.55px;">960.134</div>
<div class="t b" style="left:197.00px;top:630.96px;width:400px;font-size:9.0px;transform:scaleX(0.9200);letter-spacing:0.4px;text-indent:0.4px;">100,0%</div>
<div class="t b" style="left:308.50px;top:630.96px;width:400px;font-size:9.0px;transform:scaleX(0.9500);letter-spacing:0.55px;text-indent:0.55px;">257.492</div>
<div class="t b" style="left:382.50px;top:630.96px;width:400px;font-size:9.0px;transform:scaleX(0.9200);letter-spacing:0.4px;text-indent:0.4px;">100,0%</div>
</body></html>
